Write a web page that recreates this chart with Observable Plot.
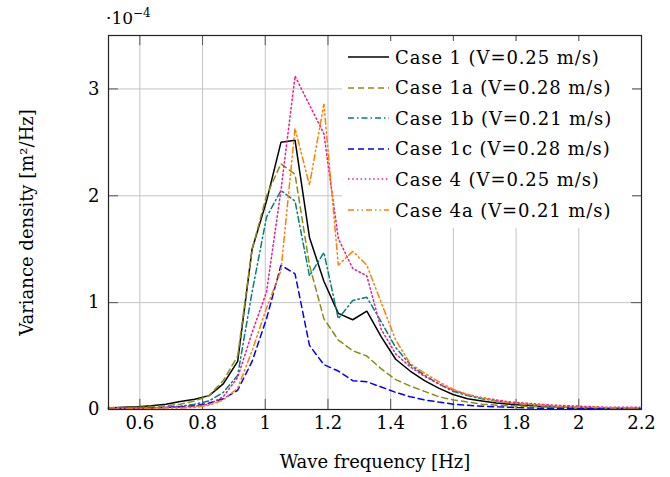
<!DOCTYPE html>
<html>
<head>
<meta charset="utf-8">
<script src="https://cdn.jsdelivr.net/npm/d3@7"></script>
<script src="https://cdn.jsdelivr.net/npm/@observablehq/plot@0.6"></script>
<style>
  body { margin: 0; background: #fff; }
  #wrap { position: relative; width: 670px; height: 477px; font-family: "DejaVu Serif", serif; }
  #wrap svg.plot { position: absolute; left: 0; top: 0; }
  #legend { position: absolute; left: 342px; top: 41px; width: 290px; height: 187px; background: #fff; }
  .row { position: absolute; left: 0; height: 30px; display: flex; align-items: center; }
  .row span { font-size: 18px; margin-left: 5px; white-space: nowrap; letter-spacing: 0.9px; }
  #expo { position: absolute; left: 106px; top: 6px; font-size: 17px; }
</style>
</head>
<body>
<div id="wrap"></div>
<script>
// Frequencies [Hz]
const freq = [0.500,0.546,0.592,0.637,0.683,0.729,0.775,0.821,0.866,0.912,0.958,1.004,1.050,1.095,1.141,1.187,1.233,1.279,1.324,1.370,1.416,1.462,1.508,1.553,1.599,1.645,1.691,1.737,1.782,1.828,1.874,1.920,1.966,2.011,2.057,2.103,2.149,2.195];
// Variance density in units of 1e-4 m^2/Hz
const case1  = [0.015,0.02,0.025,0.035,0.05,0.075,0.095,0.13,0.24,0.45,1.5,1.95,2.5,2.52,1.61,1.2,0.9,0.84,0.92,0.68,0.47,0.36,0.27,0.2,0.14,0.1,0.08,0.06,0.05,0.04,0.03,0.025,0.02,0.015,0.012,0.01,0.01,0.01];
const case1a = [0.01,0.015,0.02,0.025,0.035,0.05,0.08,0.13,0.27,0.5,1.5,2.0,2.3,2.2,1.35,0.85,0.65,0.55,0.5,0.38,0.28,0.22,0.17,0.12,0.09,0.07,0.05,0.04,0.035,0.03,0.025,0.02,0.02,0.015,0.012,0.01,0.01,0.01];
const case1b = [0.01,0.01,0.01,0.015,0.02,0.03,0.05,0.08,0.16,0.32,1.1,1.8,2.05,1.95,1.25,1.47,0.85,1.02,1.05,0.82,0.58,0.42,0.32,0.24,0.17,0.13,0.1,0.08,0.06,0.05,0.04,0.03,0.025,0.02,0.015,0.012,0.01,0.01];
const case1c = [0.01,0.01,0.01,0.015,0.02,0.025,0.035,0.06,0.1,0.18,0.45,0.85,1.35,1.27,0.6,0.42,0.36,0.27,0.26,0.21,0.16,0.12,0.09,0.07,0.05,0.04,0.03,0.025,0.02,0.015,0.012,0.01,0.01,0.01,0.008,0.008,0.008,0.008];
const case4  = [0.02,0.015,0.015,0.015,0.02,0.02,0.03,0.05,0.12,0.3,0.72,1.1,2.05,3.12,2.85,2.58,1.6,1.32,1.25,0.75,0.52,0.4,0.31,0.24,0.18,0.14,0.11,0.09,0.07,0.06,0.05,0.04,0.035,0.03,0.025,0.02,0.02,0.02];
const case4a = [0.015,0.01,0.01,0.01,0.015,0.015,0.02,0.04,0.09,0.2,0.55,0.95,1.3,2.63,2.1,2.86,1.35,1.48,1.35,1.0,0.65,0.43,0.34,0.26,0.19,0.14,0.11,0.08,0.06,0.05,0.04,0.03,0.025,0.02,0.02,0.015,0.015,0.015];

const seriesNames = ["Case 1 (V=0.25 m/s)","Case 1a (V=0.28 m/s)","Case 1b (V=0.21 m/s)","Case 1c (V=0.28 m/s)","Case 4 (V=0.25 m/s)","Case 4a (V=0.21 m/s)"];
const seriesValues = [case1, case1a, case1b, case1c, case4, case4a];
const seriesColors = ["#000000","#8c8c10","#008080","#0000ff","#ec1c8e","#ff8000"];
const seriesDashes = [null,"6,4","6,3,1.5,3","6,4","1.5,2.7","6,3,1.5,3,1.5,3"];

const xTicks = [0.6,0.8,1,1.2,1.4,1.6,1.8,2,2.2];
const yTicks = [0,1,2,3];
const xDomain = [0.5, 2.2];
const yDomain = [0, 3.5];

const FONT = "DejaVu Serif";
const tickLenX = 0.032, tickLenY = 0.095;

const lineMarks = seriesValues.map((vals, i) =>
  Plot.line(freq.map((f, j) => ({f, v: vals[j]})), {
    x: "f", y: "v", stroke: seriesColors[i], strokeWidth: 1.5,
    strokeDasharray: seriesDashes[i] || undefined, strokeLinejoin: "miter"
  })
);

const plot = Plot.plot({
  width: 670, height: 477,
  marginLeft: 108, marginRight: 29, marginTop: 35, marginBottom: 68,
  style: {fontFamily: FONT, fontSize: "18px", background: "#fff", overflow: "visible"},
  x: {domain: xDomain, ticks: xTicks},
  y: {domain: yDomain, ticks: yTicks},
  marks: [
    Plot.gridX(xTicks, {stroke: "#c4c4c4", strokeOpacity: 1, strokeWidth: 1}),
    Plot.gridY(yTicks, {stroke: "#c4c4c4", strokeOpacity: 1, strokeWidth: 1}),
    Plot.ruleY(yTicks, {x1: xDomain[0], x2: xDomain[0] + tickLenX, stroke: "#555"}),
    Plot.ruleY(yTicks, {x1: xDomain[1] - tickLenX, x2: xDomain[1], stroke: "#555"}),
    Plot.ruleX(xTicks, {y1: yDomain[0], y2: yDomain[0] + tickLenY, stroke: "#555"}),
    Plot.ruleX(xTicks, {y1: yDomain[1] - tickLenY, y2: yDomain[1], stroke: "#555"}),
    ...lineMarks,
    Plot.frame({stroke: "#222", strokeWidth: 1.2}),
    Plot.axisX(xTicks, {tickSize: 0, tickPadding: 7, fontSize: 18, tickFormat: d => String(d),
      label: "Wave frequency [Hz]", labelAnchor: "center", labelOffset: 58, labelArrow: "none"}),
    Plot.axisY(yTicks, {tickSize: 0, tickPadding: 9, fontSize: 18, tickFormat: d => String(d),
      label: "Variance density [m²/Hz]", labelAnchor: "center", labelOffset: 88, labelArrow: "none"})
  ]
});
plot.classList.add("plot");
const wrap = document.getElementById("wrap");
wrap.appendChild(plot);

// exponent label
const expo = document.createElement("div");
expo.id = "expo";
expo.innerHTML = "·10<sup style='font-size:12px'>−4</sup>";
wrap.appendChild(expo);

// legend
const legend = document.createElement("div");
legend.id = "legend";
seriesNames.forEach((name, i) => {
  const row = document.createElement("div");
  row.className = "row";
  row.style.top = (1 + i * 30.6) + "px";
  const ns = "http://www.w3.org/2000/svg";
  const svg = document.createElementNS(ns, "svg");
  svg.setAttribute("width", 48); svg.setAttribute("height", 30);
  const ln = document.createElementNS(ns, "line");
  ln.setAttribute("x1", 6); ln.setAttribute("x2", 47);
  ln.setAttribute("y1", 15); ln.setAttribute("y2", 15);
  ln.setAttribute("stroke", seriesColors[i]);
  ln.setAttribute("stroke-width", 1.5);
  if (seriesDashes[i]) ln.setAttribute("stroke-dasharray", seriesDashes[i]);
  svg.appendChild(ln);
  const t = document.createElement("span");
  t.textContent = name;
  row.appendChild(svg); row.appendChild(t);
  legend.appendChild(row);
});
wrap.appendChild(legend);
</script>
</body>
</html>
